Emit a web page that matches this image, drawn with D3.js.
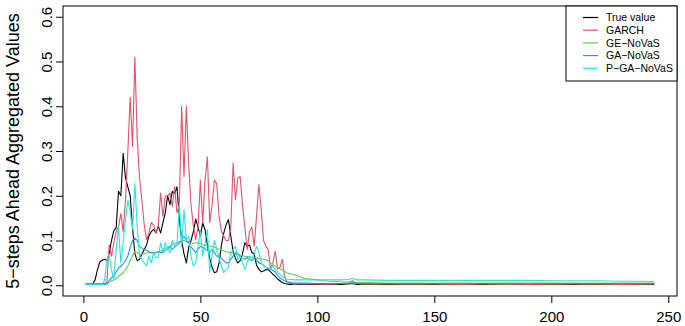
<!DOCTYPE html>
<html>
<head>
<meta charset="utf-8">
<script src="https://cdn.jsdelivr.net/npm/d3@7"></script>
<style>
  body { margin: 0; background: #fff; }
  svg { display: block; font-family: "Liberation Sans", Arial, sans-serif; }
</style>
</head>
<body>
<div id="chart"></div>
<script>
// forecast steps (dense up to 95, then sparse tail)
const steps = [
  1,2,3,4,5,6,7,8,9,10,11,12,13,14,15,16,17,18,19,20,
  21,22,23,24,25,26,27,28,29,30,31,32,33,34,35,36,37,38,39,40,
  41,42,43,44,45,46,47,48,49,50,51,52,53,54,55,56,57,58,59,60,
  61,62,63,64,65,66,67,68,69,70,71,72,73,74,75,76,77,78,79,80,
  81,82,83,84,85,86,87,88,89,90,91,92,93,94,95,
  100,105,110,113,115,117,120,130,140,150,160,170,180,190,200,210,220,230,240,244
]

const trueValue = [
  0.004,0.004,0.003,0.004,0.012,0.035,0.052,0.056,0.058,0.055,
  0.07,0.1,0.122,0.128,0.21,0.2,0.295,0.24,0.22,0.2,
  0.13,0.07,0.055,0.058,0.07,0.08,0.09,0.11,0.12,0.125,
  0.117,0.132,0.117,0.14,0.162,0.2,0.18,0.21,0.205,0.22,
  0.15,0.1,0.07,0.05,0.085,0.1,0.12,0.148,0.13,0.11,
  0.139,0.124,0.09,0.06,0.04,0.028,0.03,0.05,0.09,0.117,
  0.135,0.147,0.11,0.075,0.06,0.05,0.055,0.07,0.095,0.087,
  0.09,0.073,0.07,0.045,0.036,0.03,0.032,0.035,0.035,0.03,
  0.025,0.02,0.014,0.01,0.006,0.004,0.003,0.002,0.002,0.003,
  0.002,0.003,0.002,0.003,0.002,
  0.002,0.003,0.002,0.003,0.004,0.002,0.003,0.002,0.003,0.002,
  0.003,0.002,0.003,0.002,0.003,0.002,0.003,0.002,0.003,0.002
]

const garch = [
  0.003,0.003,0.003,0.003,0.003,0.003,0.003,0.003,0.004,0.005,
  0.09,0.065,0.095,0.12,0.13,0.16,0.12,0.19,0.3,0.42,
  0.31,0.51,0.33,0.24,0.19,0.135,0.102,0.117,0.14,0.135,
  0.117,0.132,0.206,0.154,0.2,0.2,0.206,0.176,0.22,0.162,
  0.18,0.4,0.243,0.4,0.27,0.18,0.132,0.102,0.13,0.235,
  0.14,0.235,0.287,0.14,0.18,0.235,0.226,0.154,0.12,0.11,
  0.1,0.1,0.13,0.273,0.191,0.239,0.243,0.18,0.13,0.08,
  0.12,0.13,0.087,0.154,0.225,0.17,0.1,0.087,0.08,0.036,
  0.05,0.076,0.036,0.04,0.058,0.02,0.008,0.005,0.004,0.003,
  0.003,0.003,0.004,0.003,0.003,
  0.003,0.003,0.004,0.005,0.01,0.004,0.003,0.003,0.003,0.003,
  0.002,0.003,0.003,0.002,0.003,0.003,0.003,0.002,0.003,0.003
]

const geNovas = [
  0.002,0.002,0.002,0.002,0.002,0.002,0.002,0.002,0.002,0.003,
  0.006,0.01,0.012,0.015,0.02,0.024,0.028,0.035,0.043,0.055,
  0.066,0.076,0.073,0.07,0.068,0.07,0.072,0.073,0.073,0.072,
  0.073,0.075,0.076,0.08,0.082,0.085,0.087,0.09,0.092,0.095,
  0.097,0.1,0.1,0.098,0.097,0.095,0.093,0.095,0.095,0.093,
  0.09,0.09,0.088,0.087,0.087,0.085,0.083,0.08,0.078,0.077,
  0.075,0.074,0.073,0.072,0.07,0.068,0.067,0.066,0.065,0.064,
  0.063,0.062,0.062,0.061,0.06,0.06,0.058,0.057,0.055,0.05,
  0.046,0.043,0.04,0.037,0.034,0.031,0.028,0.026,0.025,0.024,
  0.022,0.02,0.018,0.016,0.015,
  0.012,0.009,0.008,0.007,0.007,0.006,0.006,0.005,0.005,0.005,
  0.005,0.005,0.005,0.005,0.005,0.005,0.005,0.005,0.005,0.005
]

const gaNovas = [
  0.003,0.003,0.003,0.003,0.003,0.003,0.003,0.003,0.003,0.003,
  0.01,0.017,0.02,0.03,0.038,0.043,0.048,0.055,0.065,0.085,
  0.1,0.105,0.1,0.087,0.083,0.08,0.078,0.075,0.073,0.072,
  0.073,0.075,0.073,0.073,0.078,0.08,0.087,0.08,0.085,0.09,
  0.095,0.1,0.11,0.1,0.095,0.085,0.08,0.073,0.08,0.087,
  0.085,0.08,0.078,0.075,0.08,0.072,0.065,0.065,0.06,0.055,
  0.05,0.05,0.058,0.065,0.073,0.07,0.065,0.06,0.058,0.062,
  0.058,0.055,0.06,0.058,0.05,0.048,0.045,0.04,0.038,0.036,
  0.033,0.03,0.022,0.016,0.013,0.01,0.008,0.007,0.006,0.005,
  0.005,0.005,0.005,0.005,0.005,
  0.004,0.004,0.004,0.004,0.005,0.004,0.004,0.004,0.004,0.004,
  0.004,0.004,0.004,0.004,0.004,0.004,0.004,0.004,0.004,0.004
]

const pgaNovas = [
  0.002,0.002,0.002,0.002,0.002,0.002,0.002,0.002,0.01,0.055,
  0.07,0.035,0.013,0.08,0.13,0.05,0.095,0.147,0.19,0.165,
  0.124,0.228,0.13,0.065,0.058,0.05,0.043,0.065,0.05,0.073,
  0.062,0.062,0.095,0.073,0.095,0.08,0.073,0.1,0.087,0.09,
  0.184,0.087,0.169,0.1,0.11,0.065,0.043,0.05,0.087,0.124,
  0.065,0.095,0.124,0.03,0.066,0.1,0.08,0.06,0.043,0.028,
  0.036,0.04,0.073,0.08,0.087,0.058,0.065,0.05,0.036,0.05,
  0.065,0.06,0.069,0.087,0.075,0.05,0.043,0.04,0.036,0.04,
  0.043,0.035,0.03,0.025,0.02,0.016,0.014,0.013,0.013,0.012,
  0.012,0.012,0.012,0.012,0.012,
  0.012,0.012,0.012,0.013,0.015,0.012,0.012,0.011,0.011,0.011,
  0.011,0.011,0.011,0.011,0.01,0.01,0.01,0.009,0.009,0.008
]

const seriesNames = ["True value", "GARCH", "GE\u2212NoVaS", "GA\u2212NoVaS", "P\u2212GA\u2212NoVaS"]
const seriesColors = ["#000000", "#DF536B", "#61D04F", "#2297E6", "#28E2E5"]
const xTicks = [0, 50, 100, 150, 200, 250]
const yTicks = [0, 0.1, 0.2, 0.3, 0.4, 0.5, 0.6]

//set svg
const width = 685,
      height = 326

const svg = d3.select("#chart")
  .append("svg")
    .attr("width", width)
    .attr("height", height)

// plot region (R style, 4% padding)
const plotLeft = 63, plotRight = 677, plotTop = 6, plotBottom = 296

const x = d3.scaleLinear()
  .domain([-8.72, 253.72])
  .range([plotLeft, plotRight])

const y = d3.scaleLinear()
  .domain([-0.024, 0.624])
  .range([plotBottom, plotTop])

// x axis
const xAxis = svg.append("g")
  .attr("transform", `translate(0,${plotBottom})`)
  .call(d3.axisBottom(x).tickValues(xTicks).tickSize(7).tickPadding(8).tickFormat(d3.format("d")))
xAxis.select(".domain").remove()
xAxis.selectAll("line").attr("stroke", "#000")
xAxis.selectAll("text").style("font-size", "15px").attr("fill", "#000")

// y axis, rotated labels like R
const yAxis = svg.append("g")
  .attr("transform", `translate(${plotLeft},0)`)
  .call(d3.axisLeft(y).tickValues(yTicks).tickSize(7).tickFormat(d3.format(".1f")))
yAxis.select(".domain").remove()
yAxis.selectAll("line").attr("stroke", "#000")
yAxis.selectAll("text")
  .attr("x", null).attr("dy", null)
  .attr("text-anchor", "middle")
  .attr("transform", "translate(-11,0) rotate(-90)")
  .style("font-size", "15px")
  .attr("fill", "#000")

// y label
svg.append("text")
  .attr("transform", `translate(19,${(plotTop + plotBottom) / 2}) rotate(-90)`)
  .attr("text-anchor", "middle")
  .style("font-size", "18px")
  .text("5\u2212steps Ahead Aggregated Values")

// draw lines
const series = [trueValue, garch, geNovas, gaNovas, pgaNovas]
const line = d3.line()
  .x((d, i) => x(steps[i]))
  .y(d => y(d))

svg.append("g")
  .selectAll("path")
  .data(series)
  .join("path")
    .attr("d", line)
    .attr("fill", "none")
    .attr("stroke", (d, i) => seriesColors[i])
    .attr("stroke-width", 1.1)
    .attr("stroke-linejoin", "round")

// plot box
svg.append("rect")
  .attr("x", plotLeft).attr("y", plotTop)
  .attr("width", plotRight - plotLeft).attr("height", plotBottom - plotTop)
  .attr("fill", "none")
  .attr("stroke", "#000")

// legend
const legend = svg.append("g")
legend.append("rect")
  .attr("x", 566).attr("y", plotTop)
  .attr("width", plotRight - 566).attr("height", 75)
  .attr("fill", "#fff")
  .attr("stroke", "#000")

const rows = legend.selectAll("g.row")
  .data(seriesNames)
  .join("g")
    .attr("class", "row")
    .attr("transform", (d, i) => `translate(0,${17.5 + i * 12.7})`)
rows.append("line")
  .attr("x1", 583).attr("x2", 598)
  .attr("stroke", (d, i) => seriesColors[i])
  .attr("stroke-width", 1.2)
rows.append("text")
  .attr("x", 606)
  .attr("dy", "0.35em")
  .style("font-size", "10.5px")
  .text(d => d)
</script>
</body>
</html>
